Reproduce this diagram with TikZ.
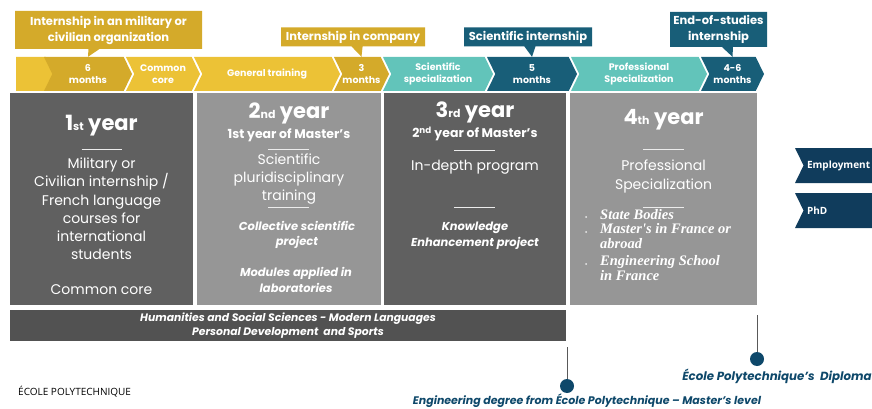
\documentclass[tikz,border=0pt]{standalone}
\usepackage{fontspec}
\setmainfont{Poppins}
\newfontfamily\listfont{Liberation Serif}
\newfontfamily\plainsans{Open Sans}
\usetikzlibrary{shapes.symbols,shapes.callouts,positioning}

\definecolor{epgold}{RGB}{212,170,42}
\definecolor{epyellow}{RGB}{236,194,54}
\definecolor{epteal}{RGB}{98,196,186}
\definecolor{epblue}{RGB}{24,94,120}
\definecolor{epnavy}{RGB}{14,72,106}
\definecolor{epexit}{RGB}{16,60,92}
\definecolor{epdark}{RGB}{96,96,96}
\definecolor{eplight}{RGB}{150,150,150}
\definecolor{epband}{RGB}{82,82,82}

\begin{document}
\begin{tikzpicture}[x=1pt,y=-1pt,
    chev/.style={signal,signal to=east,signal from=west,signal pointer angle=128,
      minimum height=34,inner sep=0pt,text=white,align=center,
      font=\bfseries\fontsize{9.5}{11.5}\selectfont},
    tag/.style={rectangle callout,callout pointer width=11,inner sep=0pt,
      text=white,align=center,font=\bfseries\fontsize{11.5}{16}\selectfont},
    yearbox/.style={rectangle,inner sep=0pt,minimum height=212},
    head/.style={text=white,font=\bfseries\fontsize{21}{22}\selectfont},
    sub/.style={text=white,font=\bfseries\fontsize{12.5}{18}\selectfont,align=center},
    body/.style={text=white,font=\fontsize{14}{18.2}\selectfont,align=center},
    note/.style={text=white,font=\bfseries\itshape\fontsize{11.5}{15.5}\selectfont,align=center},
    rule/.style={white!85!gray,line width=0.8},
    pin/.style={circle,fill=epnavy,minimum size=14,inner sep=0pt},
    stem/.style={black!65,line width=0.8},
    degree/.style={text=epnavy,font=\bfseries\itshape\fontsize{11}{12}\selectfont},
    exit/.style={signal,signal to=east,signal from=west,signal pointer angle=128,
      fill=epexit,minimum height=35,inner sep=0pt,text=white,align=left,
      text width=88,font=\plainsans\bfseries\fontsize{10}{12}\selectfont}]
  \useasboundingbox (0,0) rectangle (872,409);

  % timeline of chevrons
  \node[chev,signal from=nowhere,fill=epyellow,minimum width=38] (chev0) at (31,74) {};
  \foreach \l/\r/\c/\t [count=\i] in {44/132/epgold/{6\\months},
      126/200/epyellow/{Common\\core},194/340/epyellow/{General training},
      334/389/epgold/{3\\months},383/493/epteal/{Scientific\\specialization},
      487/577/epblue/{5\\months},571/707/epteal/{Professional\\Specialization},
      701/764/epblue/{4-6\\months}}{
    \pgfmathsetmacro\w{\r-\l}
    \pgfmathsetmacro\cx{(\l+\r)/2}
    \node[chev,fill=\c,minimum width=\w] (chev\i) at (\cx,74) {\t};
  }

  % internships above the timeline
  \node[tag,fill=epgold,minimum width=187,minimum height=38,
    callout absolute pointer={(chev1.north)}] (mil) at (108.5,30)
    {Internship in an military or\\civilian organization};
  \node[tag,fill=epgold,minimum width=144,minimum height=19,
    callout absolute pointer={(chev4.north)}] (comp) at (353,37) {Internship in company};
  \node[tag,fill=epblue,minimum width=128,minimum height=19,
    callout absolute pointer={(chev6.north)}] (sci) at (528,37) {Scientific internship};
  \node[tag,fill=epblue,minimum width=97,minimum height=35,
    callout absolute pointer={(chev8.north)}] (end) at (718.5,29.5) {End-of-studies\\internship};

  % the four years
  \node[yearbox,fill=epdark,minimum width=183] (y1) at (101.5,199) {};
  \node[yearbox,fill=eplight,minimum width=184] (y2) at (289,199) {};
  \node[yearbox,fill=epdark,minimum width=182] (y3) at (475,199) {};
  \node[yearbox,fill=eplight,minimum width=187] (y4) at (663.5,199) {};

  \node[head] (h1) at (101.5,126) {1{\fontsize{11}{12}\selectfont st} year};
  \draw[rule] (81.5,149) -- (121.5,149);
  \node[body] (b1) at (101.5,209) {Military or\\Civilian internship /\\French language\\courses for\\international\\students};
  \node[body] (c1) at (101.5,290) {Common core};

  \node[head] (h2) at (289,113) {2{\fontsize{11}{12}\selectfont nd} year};
  \node[sub] (m2) at (289,135) {1st year of Master's};
  \draw[rule] (268,149) -- (309,149);
  \node[body] (b2) at (289,179) {Scientific\\pluridisciplinary\\training};
  \draw[rule] (268,207) -- (309,207);
  \node[note] (n2) at (297,235) {Collective scientific\\project};
  \node[note] (p2) at (296,280) {Modules applied in\\laboratories};

  \node[head] (h3) at (475,112) {3{\fontsize{11}{12}\selectfont rd} year};
  \node[sub] (m3) at (475,134) {2\textsuperscript{nd} year of Master's};
  \draw[rule] (454,150) -- (495,150);
  \node[body] (b3) at (475,167) {In-depth program};
  \draw[rule] (454,207) -- (495,207);
  \node[note] (n3) at (475,236) {Knowledge\\Enhancement project};

  \node[head] (h4) at (663.5,120) {4{\fontsize{11}{12}\selectfont th} year};
  \draw[rule] (643,149) -- (684,149);
  \node[body] (b4) at (663.5,176.5) {Professional\\Specialization};
  \draw[rule] (643,207) -- (684,207);
  \foreach \y in {217,232,264}
    \fill[white!85!gray] (586,\y) circle (1);
  \node[text=white,anchor=north west,align=left,inner sep=0pt,
    font=\listfont\bfseries\itshape\fontsize{14.5}{14.5}\selectfont] (l4) at (600,209)
    {State Bodies\\Master's in France or\\abroad\\[3pt]Engineering School\\in France};

  % common band
  \node[rectangle,fill=epband,minimum width=556,minimum height=31,inner sep=0pt,
    text=white,align=center,font=\bfseries\itshape\fontsize{10.8}{13.5}\selectfont] (band) at (288,325.5)
    {Humanities and Social Sciences - Modern Languages\\Personal Development\ \ and Sports};

  % degrees
  \node[pin] (eng) at (567,386) {};
  \coordinate (engtop) at (567,347);
  \draw[stem] (engtop) -- (eng);
  \node[degree] (engtxt) at (587,401) {Engineering degree from École Polytechnique -- Master's level};
  \node[pin] (dip) at (757,359) {};
  \coordinate (diptop) at (757,315);
  \draw[stem] (diptop) -- (dip);
  \node[degree,font=\bfseries\itshape\fontsize{11.8}{12}\selectfont] (diptxt) at (777,376) {École Polytechnique's\ \ Diploma};

  % after the diploma
  \node[exit,minimum width=112] (job) at (851,165.5) {Employment};
  \node[exit,minimum width=112] (phd) at (851,210.5) {PhD};

  \node[anchor=west,inner sep=0pt,font=\plainsans\fontsize{10}{12}\selectfont] (school) at (18,392) {ÉCOLE POLYTECHNIQUE};
\end{tikzpicture}
\end{document}
